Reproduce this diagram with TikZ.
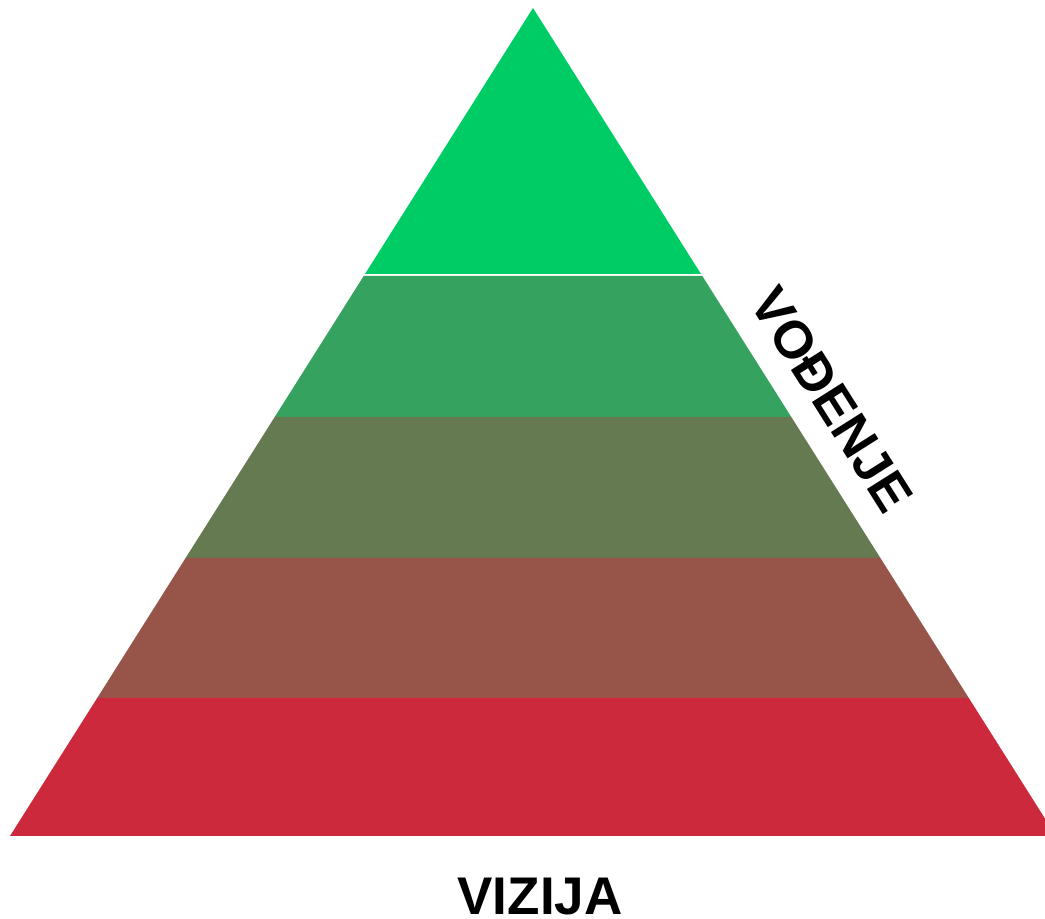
\documentclass[tikz,border=0pt]{standalone}
\usepackage{fontspec}
\setmainfont{Liberation Sans}
\definecolor{bandA}{HTML}{00CC66}
\definecolor{bandB}{HTML}{35A35F}
\definecolor{bandC}{HTML}{667A52}
\definecolor{bandD}{HTML}{97554A}
\definecolor{bandE}{HTML}{CC2A3C}
\begin{document}
\begin{tikzpicture}[x=1pt,y=1pt,
  band/.style={draw=none},
  label/.style={font=\fontsize{53}{53}\selectfont\bfseries, text=black, inner sep=0pt}]
\useasboundingbox (0,0) rectangle (1045,919);
\clip (0,0) rectangle (1045,919);
\fill[band, bandA] (533,911) -- (365,645) -- (701,645) -- cycle;
\fill[band, bandB] (363.7,643) -- (702.3,643) -- (791.3,502) -- (274.7,502) -- cycle;
\fill[band, bandC] (274.7,502) -- (791.3,502) -- (880.4,361) -- (185.6,361) -- cycle;
\fill[band, bandD] (185.6,361) -- (880.4,361) -- (968.8,221) -- (97.2,221) -- cycle;
\fill[band, bandE] (97.2,221) -- (968.8,221) -- (1056,83) -- (10,83) -- cycle;
\node[label, anchor=base] (vizija) at (540,4) {VIZIJA};
\node[label, rotate=-57.7] (vodjenje) at (832,519) {VOĐENJE};
\end{tikzpicture}
\end{document}
